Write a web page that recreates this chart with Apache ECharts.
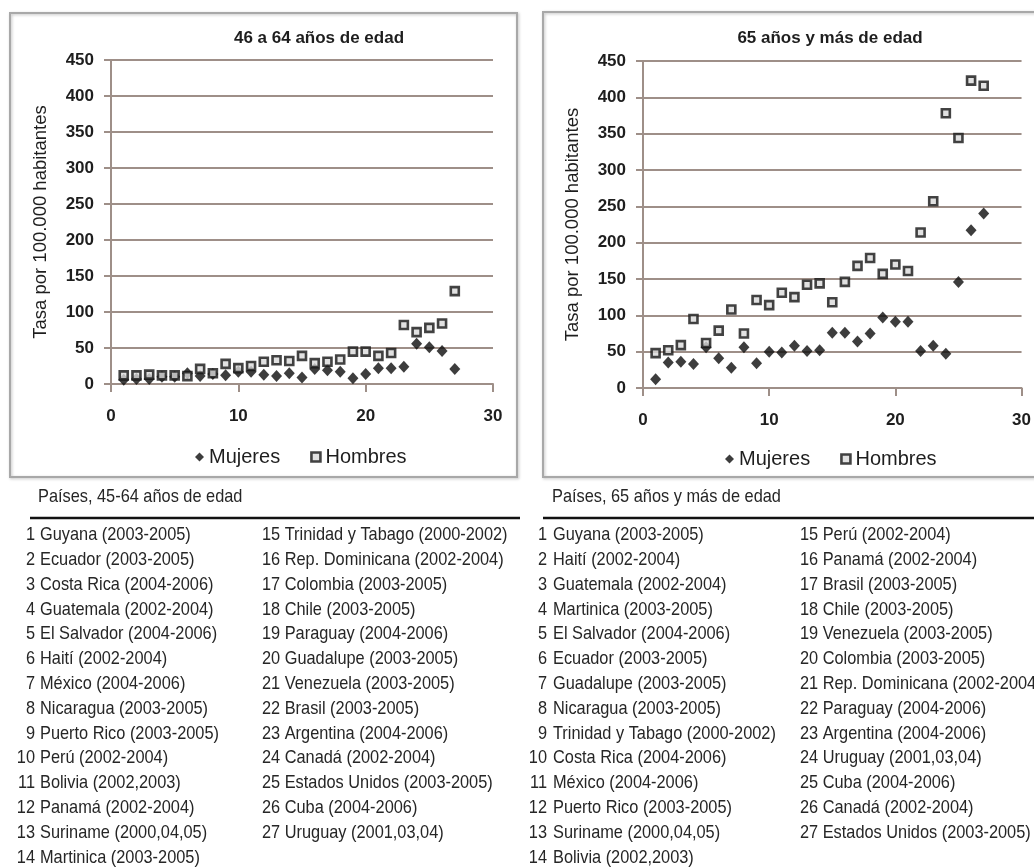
<!DOCTYPE html>
<html>
<head>
<meta charset="utf-8">
<script src="https://cdn.jsdelivr.net/npm/echarts@6/dist/echarts.min.js"></script>
<style>
html,body{margin:0;padding:0;background:#fff;}
#c{width:1034px;height:867px;}
</style>
</head>
<body>
<div id="c"></div>
<script>
// ---- data ----
const xTicks = [0, 10, 20, 30];
const yTicks = [0, 50, 100, 150, 200, 250, 300, 350, 400, 450];
const titleLeft = "46 a 64 años de edad";
const titleRight = "65 años y más de edad";
const yName = "Tasa por 100.000 habitantes";
const seriesNames = ["Mujeres", "Hombres"];
const mujeres4564 = [6,7,7,10,10,15,11,14,12,17,17,13,11,15,9,21,19,17,8,14,22,22,24,56,51,46,21];
const hombres4564 = [12,12,13,12,12,11,21,15,28,22,25,31,33,32,39,29,31,34,45,45,39,43,82,72,78,84,129];
const mujeres65 = [12,35,36,33,56,41,28,56,34,50,49,58,51,52,76,76,64,75,97,91,91,51,58,47,146,217,240];
const hombres65 = [48,52,59,95,62,79,108,75,121,114,131,125,142,144,118,146,168,179,157,170,161,214,257,378,344,423,416];
const headerLeft = "Países, 45-64 años de edad";
const headerRight = "Países, 65 años y más de edad";
const paises4564 = ["Guyana (2003-2005)","Ecuador (2003-2005)","Costa Rica (2004-2006)","Guatemala (2002-2004)","El Salvador (2004-2006)","Haití (2002-2004)","México (2004-2006)","Nicaragua (2003-2005)","Puerto Rico (2003-2005)","Perú (2002-2004)","Bolivia (2002,2003)","Panamá (2002-2004)","Suriname (2000,04,05)","Martinica (2003-2005)","Trinidad y Tabago (2000-2002)","Rep. Dominicana (2002-2004)","Colombia (2003-2005)","Chile (2003-2005)","Paraguay (2004-2006)","Guadalupe (2003-2005)","Venezuela (2003-2005)","Brasil (2003-2005)","Argentina (2004-2006)","Canadá (2002-2004)","Estados Unidos (2003-2005)","Cuba (2004-2006)","Uruguay (2001,03,04)"];
const paises65 = ["Guyana (2003-2005)","Haití (2002-2004)","Guatemala (2002-2004)","Martinica (2003-2005)","El Salvador (2004-2006)","Ecuador (2003-2005)","Guadalupe (2003-2005)","Nicaragua (2003-2005)","Trinidad y Tabago (2000-2002)","Costa Rica (2004-2006)","México (2004-2006)","Puerto Rico (2003-2005)","Suriname (2000,04,05)","Bolivia (2002,2003)","Perú (2002-2004)","Panamá (2002-2004)","Brasil (2003-2005)","Chile (2003-2005)","Venezuela (2003-2005)","Colombia (2003-2005)","Rep. Dominicana (2002-2004)","Paraguay (2004-2006)","Argentina (2004-2006)","Uruguay (2001,03,04)","Cuba (2004-2006)","Canadá (2002-2004)","Estados Unidos (2003-2005)"];

// ---- styling ----
const FONT = "'Liberation Sans',Arial,sans-serif";
const TXT = '#1e1e1e';
const GRIDC = '#9e8f88';

function pts(arr){ return arr.map((v,i)=>[i+1, v]); }

function xAxisCfg(gi){
  return {
    gridIndex: gi, type:'value', min:0, max:30, interval:10,
    axisLine:{show:true, onZero:false, lineStyle:{color:GRIDC, width:2}},
    axisTick:{show:true, length:8, lineStyle:{color:GRIDC, width:2}},
    axisLabel:{color:TXT, fontFamily:FONT, fontSize:17, fontWeight:'bold', margin:24,
      formatter: v => xTicks.includes(v) ? String(v) : ''},
    splitLine:{show:false}
  };
}
function yAxisCfg(gi, gap){
  return {
    gridIndex: gi, type:'value', min:0, max:450, interval:50,
    name: yName, nameLocation:'middle', nameGap: gap, nameRotate: 90,
    nameTextStyle:{color:TXT, fontFamily:FONT, fontSize:18.5},
    axisLine:{show:true, lineStyle:{color:GRIDC, width:2}},
    axisTick:{show:true, length:7, lineStyle:{color:GRIDC, width:2}},
    axisLabel:{color:TXT, fontFamily:FONT, fontSize:17, fontWeight:'bold', margin:17,
      formatter: v => yTicks.includes(v) ? String(v) : ''},
    splitLine:{show:true, lineStyle:{color:GRIDC, width:2.2}}
  };
}
const femStyle = {color:'#0d0d0d'};
const maleStyle = {color:'#d9d9d9', borderColor:'#151515', borderWidth:2.6};

function scat(name, data, gi, female){
  return {
    name, type:'scatter', xAxisIndex:gi, yAxisIndex:gi, data: pts(data),
    symbol: female ? 'diamond' : 'rect',
    symbolSize: female ? [11,12] : 8,
    itemStyle: female ? femStyle : maleStyle,
    emphasis:{disabled:true}, silent:true, z: female ? 2 : 3
  };
}

// ---- boxes & tables (graphic) ----
const gfx = [];
const boxStyle = {fill:'none', stroke:'#a8a8a8', lineWidth:2, shadowBlur:3, shadowColor:'rgba(0,0,0,0.25)', shadowOffsetX:1, shadowOffsetY:1};
gfx.push({type:'rect', shape:{x:10, y:13, width:507, height:464}, style:boxStyle, z:-1});
gfx.push({type:'rect', shape:{x:543, y:12, width:500, height:465}, style:boxStyle, z:-1});

const ROW0 = 535, ROWH = 24.8, TFS = 19, SX = 0.86;
function tableText(x, y, text, align){
  gfx.push({type:'text', x, y, scaleX: SX, style:{text, x:0, y:0, font: TFS + 'px ' + FONT, fill:'#262626',
    textAlign: align, textVerticalAlign:'middle'}});
}
function buildTable(list, header, numRight1, name1, col2x, lineX0, lineX1, headX){
  tableText(headX, 497, header, 'left');
  gfx.push({type:'line', shape:{x1:lineX0, y1:518, x2:lineX1, y2:518}, style:{stroke:'#111', lineWidth:2.5}});
  list.forEach((n,i)=>{
    const col = i < 14 ? 0 : 1;
    const r = col === 0 ? i : i - 14;
    const y = ROW0 + r*ROWH;
    if(col === 0){
      tableText(numRight1, y, String(i+1), 'right');
      tableText(name1, y, n, 'left');
    } else {
      tableText(col2x, y, (i+1) + ' ' + n, 'left');
    }
  });
}
buildTable(paises4564, headerLeft, 35, 40, 262, 30, 520, 38);
buildTable(paises65, headerRight, 547, 553, 800, 543, 1034, 552);

const option = {
  animation:false,
  backgroundColor:'#fff',
  title:[
    {text:titleLeft, left:314, top:25, textAlign:'center',
      textStyle:{fontFamily:FONT, fontSize:17, fontWeight:'bold', color:TXT}},
    {text:titleRight, left:825, top:25, textAlign:'center',
      textStyle:{fontFamily:FONT, fontSize:17, fontWeight:'bold', color:TXT}}
  ],
  legend:[
    {left:190, top:442, itemGap:30, itemWidth:9, itemHeight:9,
      textStyle:{fontFamily:FONT, fontSize:20, color:TXT},
      data:[{name:seriesNames[0], icon:'diamond', itemStyle:femStyle},{name:seriesNames[1], icon:'rect', itemStyle:maleStyle}]},
    {left:720, top:444, itemGap:30, itemWidth:9, itemHeight:9,
      textStyle:{fontFamily:FONT, fontSize:20, color:TXT},
      data:[{name:seriesNames[0], icon:'diamond', itemStyle:femStyle},{name:seriesNames[1], icon:'rect', itemStyle:maleStyle}]}
  ],
  grid:[
    {left:111, top:60, width:382, height:324},
    {left:643, top:61, width:386, height:327}
  ],
  xAxis:[xAxisCfg(0), xAxisCfg(1)],
  yAxis:[yAxisCfg(0, 61), yAxisCfg(1, 61)],
  series:[
    scat(seriesNames[0], mujeres4564, 0, true),
    scat(seriesNames[1], hombres4564, 0, false),
    scat(seriesNames[0], mujeres65, 1, true),
    scat(seriesNames[1], hombres65, 1, false)
  ],
  graphic: gfx
};
const chart = echarts.init(document.getElementById('c'), null, {renderer:'canvas'});
chart.setOption(option);
</script>
</body>
</html>
